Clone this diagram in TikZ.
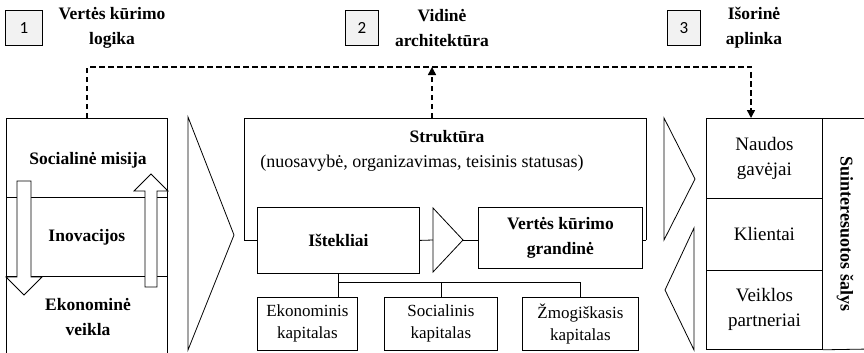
\documentclass[tikz,border=0pt]{standalone}
\usepackage{fontspec}
\setmainfont{Liberation Serif}
\newfontfamily\numfont{Carlito}
\usetikzlibrary{arrows.meta,calc}
\newcommand\myB{\bfseries\fontsize{17.5}{25}\selectfont}
\newcommand\myR{\fontsize{18}{26}\selectfont}
\newcommand\myS{\fontsize{17}{22}\selectfont}
\newcommand\myC{\fontsize{19}{25}\selectfont}
\definecolor{numgray}{HTML}{F2F2F2}
\begin{document}
\begin{tikzpicture}[x=1pt,y=-1pt,
  ln/.style={line width=0.8pt},
  box/.style={draw, line width=0.8pt, fill=white, inner sep=0pt, align=center, anchor=north west},
  numbox/.style={draw, line width=0.8pt, fill=numgray, inner sep=0pt, anchor=north west, font=\numfont\fontsize{17}{20}\selectfont},
  lbl/.style={inner sep=0pt, align=center},
  dashline/.style={line width=1.5pt, dash pattern=on 5.5pt off 3.5pt},
  tip/.style={-{Triangle[length=8pt,width=8pt]}}
]
\useasboundingbox (0,0) rectangle (864,353);

% numbered headers
\node[numbox, minimum width=37pt, minimum height=35pt] (n1) at (5,10) {1};
\node[numbox, minimum width=33pt, minimum height=35pt] (n2) at (345,10) {2};
\node[numbox, minimum width=33pt, minimum height=35pt] (n3) at (667,10) {3};
\node[lbl, font=\myB] (t1) at (112,28) {Vertės kūrimo\\logika};
\node[lbl, font=\myB] (t2) at (442,28) {Vidinė\\architektūra};
\node[lbl, font=\myB] (t3) at (754,28) {Išorinė\\aplinka};

% left block
\node[inner sep=0pt, anchor=north west, minimum width=161pt, minimum height=245pt] (lbox) at (6,118) {};
\draw[ln] (lbox.south west) -- (lbox.north west) -- (lbox.north east) -- (lbox.south east);
\node[lbl, font=\myB] (soc) at (88,160) {Socialinė misija};
\node[box, minimum width=161pt, minimum height=79pt, font=\myB] (band) at (6,197) {Inovacijos};
\node[lbl, font=\myB] (eko) at (88,317) {Ekonominė\\veikla};
\draw[ln, fill=white] (17,181) -- (31,181) -- (31,277) -- (42,277) -- (24,295) -- (6,277) -- (17,277) -- cycle;
\draw[ln, fill=white] (145,287) -- (157,287) -- (157,191) -- (168,191) -- (151,174) -- (134,191) -- (145,191) -- cycle;

% big chevron
\draw[ln] (188,117) -- (234,235) -- (188,350) -- cycle;

% structure block (open at the bottom)
\node[inner sep=0pt, anchor=north west, minimum width=402pt, minimum height=122pt] (str) at (244,118) {};
\draw[ln] (str.south west) -- (str.north west) -- (str.north east) -- (str.south east);
\node[lbl, font=\myB] (strt) at (447,137) {Struktūra};
\node[lbl, font=\myR] (strp) at (422,163) {(nuosavybė, organizavimas, teisinis statusas)};
\node[box, minimum width=162pt, minimum height=66pt, font=\myB] (ist) at (257,207) {Ištekliai};
\node[box, minimum width=164pt, minimum height=61pt, font=\myB] (vkg) at (478,207) {Vertės kūrimo\\grandinė};
\draw[ln] (str.south west) -- (str.south west -| ist.west);
\draw[ln] (str.south east) -- (str.south east -| vkg.east);
\coordinate (trL) at (433,240);
\coordinate (trR) at (463,240);
\draw[ln, fill=white] (433,208) -- (trR) -- (433,272) -- cycle;
\draw[ln] (ist.east) -- (trL);
\draw[ln] (trR) -- (trR -| vkg.west);

% capitals
\node[box, minimum width=100pt, minimum height=53pt, font=\myS] (ek) at (257,297) {Ekonominis\\kapitalas};
\node[box, minimum width=113pt, minimum height=53pt, font=\myS] (sc) at (384,297) {Socialinis\\kapitalas};
\node[box, minimum width=116pt, minimum height=53pt, font=\myS] (zm) at (522,297) {Žmogiškasis\\kapitalas};
\coordinate (j) at ($(ist.south)+(0,9)$);
\draw[ln] (ist.south) -- (ist.south |- ek.north);
\draw[ln] (j) -| (zm.north);
\draw[ln] (sc.north |- j) -- (sc.north);

% right triangles
\draw[ln] (664,118) -- (695,179) -- (664,240) -- cycle;
\draw[ln] (694,228) -- (665,290) -- (694,350) -- cycle;

% stakeholders
\node[box, minimum width=116pt, minimum height=80pt, font=\myC] (nb) at (706,118) {Naudos\\gavėjai};
\node[box, minimum width=116pt, minimum height=72pt, font=\myC] (kl) at (706,198) {Klientai};
\node[box, minimum width=116pt, minimum height=79pt, font=\myC] (vp) at (706,270) {Veiklos\\partneriai};
\draw[ln] (nb.north east) -- (870,118);
\draw[ln] (vp.south east) -- (870,349);
\node[lbl, font=\bfseries\fontsize{18}{22}\selectfont, rotate=-90] (sal) at (845,234) {Suinteresuotos šalys};

% dashed feedback
\coordinate (dl) at (87,67);
\coordinate (dm) at (432,67);
\coordinate (dr) at (751,67);
\draw[dashline, tip] (dl |- lbox.north) -- (dl) -- (dr) -- (dr |- nb.north);
\draw[dashline, tip] (dm |- str.north) -- (dm);
\end{tikzpicture}
\end{document}
